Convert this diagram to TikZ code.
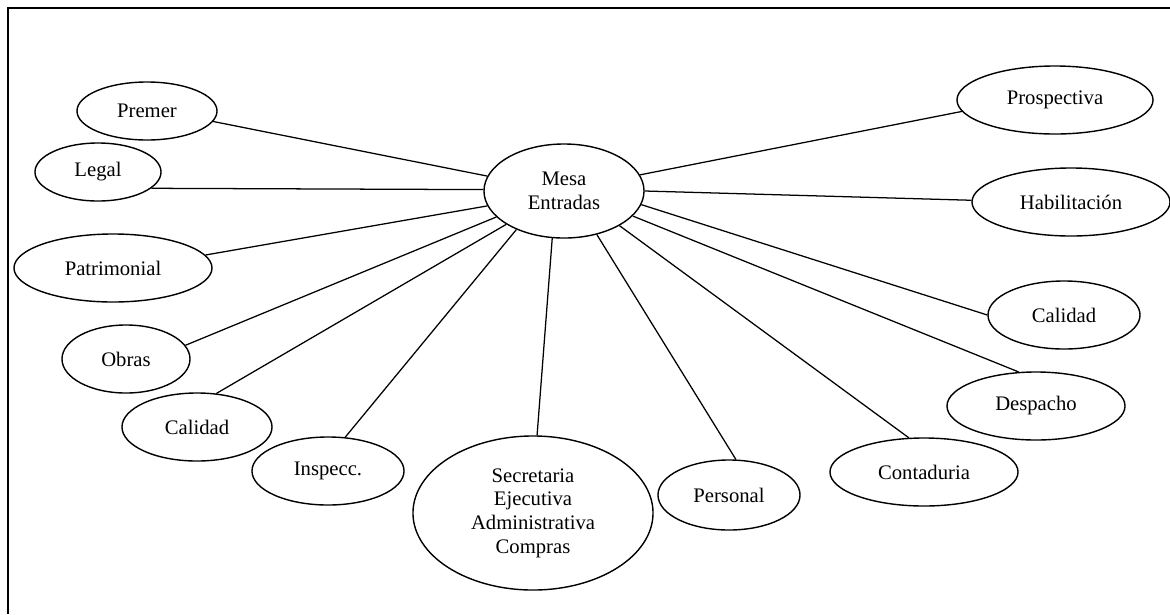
\documentclass[tikz,border=0pt]{standalone}
\usepackage{fontspec}
\setmainfont{Liberation Serif}
\usetikzlibrary{shapes.geometric}

\begin{document}
\begin{tikzpicture}[x=0.025cm,y=-0.025cm,
  unit/.style={ellipse, draw, line width=1pt, inner sep=0pt, align=center,
    font=\fontsize{14.7}{16.8}\selectfont},
  link/.style={line width=0.9pt}]
\useasboundingbox (0,0) rectangle (1170,614);
\draw[line width=1.2pt] (8,614) -- (8,8) -- (1170,8);

\node[unit, minimum width=4cm, minimum height=2.35cm] (mesa) at (564,191) {Mesa\\Entradas};

% left side
\node[unit, minimum width=3.5cm, minimum height=1.45cm] (premer) at (147,111) {Premer};
\node[unit, minimum width=3.15cm, minimum height=1.45cm] (legal) at (98,172) {Legal};
\node[unit, minimum width=4.95cm, minimum height=1.7cm] (patrimonial) at (113,268) {Patrimonial};
\node[unit, minimum width=3.2cm, minimum height=1.7cm] (obras) at (126,359) {Obras};
\node[unit, minimum width=3.75cm, minimum height=1.7cm] (calidadA) at (197,427) {Calidad};
\node[unit, minimum width=3.8cm, minimum height=1.7cm] (inspecc) at (328,471) {Inspecc.};

% bottom
\node[unit, minimum width=6cm, minimum height=3.85cm] (secretaria) at (533,513) {Secretaria\\Ejecutiva\\Administrativa\\Compras};
\node[unit, minimum width=3.55cm, minimum height=1.75cm] (personal) at (729,495) {Personal};
\node[unit, minimum width=4.7cm, minimum height=1.7cm] (contaduria) at (924,472) {Contaduria};

% right side
\node[unit, minimum width=4.45cm, minimum height=1.7cm] (despacho) at (1036,406) {Despacho};
\node[unit, minimum width=3.8cm, minimum height=1.7cm] (calidadB) at (1064,315) {Calidad};
\node[unit, minimum width=4.95cm, minimum height=1.7cm] (habilitacion) at (1071,202) {Habilitación};
\node[unit, minimum width=4.9cm, minimum height=1.7cm] (prospectiva) at (1055,100) {Prospectiva};

\draw[link] (mesa.169) -- (premer.-9);
\draw[link] (mesa.179) -- (legal.-17);
\draw[link] (mesa.191) -- (patrimonial.8);
\draw[link] (mesa.201) -- (obras.13);
\draw[link] (mesa.210) -- (calidadA.60);
\draw[link] (mesa.219) -- (inspecc.63);
\draw[link] (mesa.256) -- (secretaria.87);
\draw[link] (mesa.307) -- (personal.79);
\draw[link] (mesa.328) -- (contaduria.114);
\draw[link] (mesa.340) -- (despacho.117);
\draw[link] (mesa.350) -- (calidadB.180);
\draw[link] (mesa.0) -- (habilitacion.179);
\draw[link] (mesa.12) -- (prospectiva.187);
\end{tikzpicture}
\end{document}
